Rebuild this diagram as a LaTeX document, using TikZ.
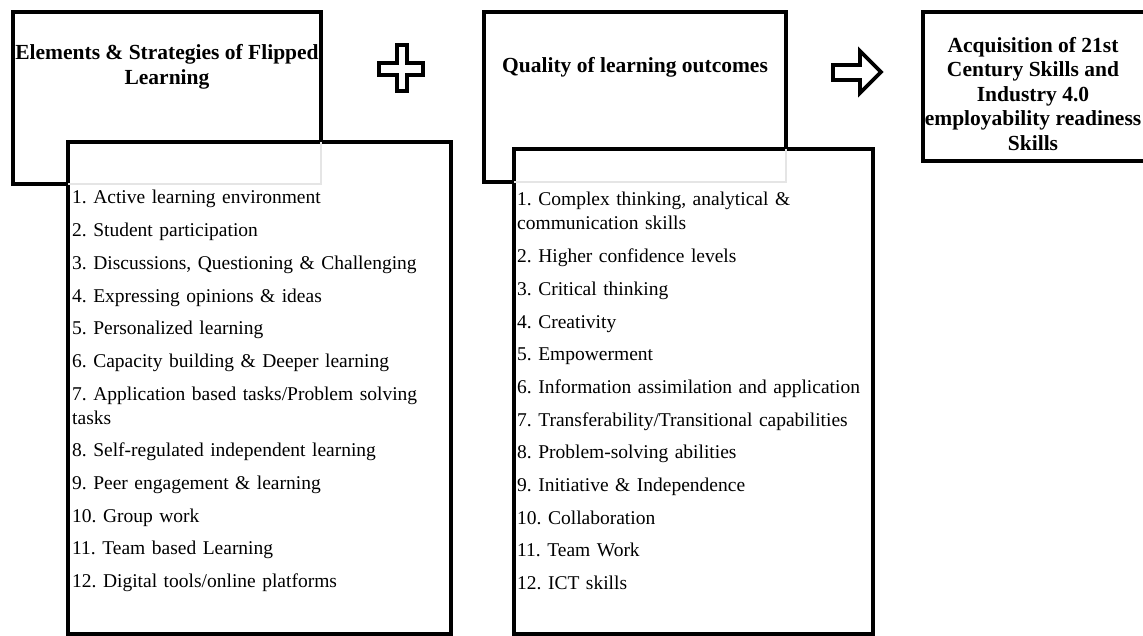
\documentclass[tikz,border=0pt]{standalone}
\usepackage{fontspec}
\setmainfont{Liberation Serif}
\begin{document}
\frenchspacing
\begin{tikzpicture}[x=1pt,y=-1pt,
  box/.style={draw=black, line width=4pt, fill=white, inner sep=0, outer sep=0},
  ghost/.style={draw=black!10, line width=1.5pt},
  title/.style={font=\bfseries\fontsize{21.5}{25}\selectfont, align=center, inner sep=0},
  list/.style={font=\frenchspacing\fontsize{19.5}{24}\selectfont, align=left, inner sep=0, anchor=base west},
  sym/.style={draw=black, line width=3.8pt, fill=white, line join=miter}
]
\useasboundingbox (0,0) rectangle (1143,636);
\fill[white] (0,0) rectangle (1143,636);

% back boxes
\node[box, minimum width=308pt, minimum height=172pt] (b1) at (167,98) {};
\node[box, minimum width=302pt, minimum height=170pt] (b2) at (635,97) {};
\node[box, minimum width=224pt, minimum height=149pt] (b3) at (1035,86.5) {};

% front boxes
\node[box, minimum width=383pt, minimum height=492pt] (f1) at (259.5,388) {};
\node[box, minimum width=359pt, minimum height=485pt] (f2) at (693.5,391.5) {};

% faint hidden outlines
\draw[ghost] (f1.north -| b1.east) -- (b1.south east) -- (b1.south -| f1.west);
\draw[ghost] (f2.north -| b2.east) -- (b2.south east) -- (b2.south -| f2.west);

% titles
\node[title] (t1) at (167,67) {Elements \& Strategies of Flipped\\Learning};
\node[title] (t2) at (635,67) {Quality of learning outcomes};
\node[title, font=\bfseries\fontsize{21.5}{24.5}\selectfont] (t3) at (1033,94)
  {Acquisition of 21st\\Century Skills and\\Industry 4.0\\employability readiness\\Skills};

% symbols
\draw[sym] (397,45) -- (407,45) -- (407,63) -- (423,63) -- (423,75) -- (407,75)
  -- (407,91) -- (397,91) -- (397,75) -- (379,75) -- (379,63) -- (397,63) -- cycle;
\draw[sym] (833,65) -- (860,65) -- (860,51) -- (881,72) -- (860,93) -- (860,80)
  -- (833,80) -- cycle;

% lists
\node[list, text width=375pt] (l1) at (72,204) {%
1. Active learning environment\\[8.7pt]
2. Student participation\\[8.7pt]
3. Discussions, Questioning \& Challenging\\[8.7pt]
4. Expressing opinions \& ideas\\[8.7pt]
5. Personalized learning\\[8.7pt]
6. Capacity building \& Deeper learning\\[8.7pt]
7. Application based tasks/Problem solving\\
tasks\\[8.7pt]
8. Self-regulated independent learning\\[8.7pt]
9. Peer engagement \& learning\\[8.7pt]
10. Group work\\[8.7pt]
11. Team based Learning\\[8.7pt]
12. Digital tools/online platforms};

\node[list, text width=352pt] (l2) at (517,206) {%
1. Complex thinking, analytical \&\\
communication skills\\[8.7pt]
2. Higher confidence levels\\[8.7pt]
3. Critical thinking\\[8.7pt]
4. Creativity\\[8.7pt]
5. Empowerment\\[8.7pt]
6. Information assimilation and application\\[8.7pt]
7. Transferability/Transitional capabilities\\[8.7pt]
8. Problem-solving abilities\\[8.7pt]
9. Initiative \& Independence\\[8.7pt]
10. Collaboration\\[8.7pt]
11. Team Work\\[8.7pt]
12. ICT skills};
\end{tikzpicture}
\end{document}
